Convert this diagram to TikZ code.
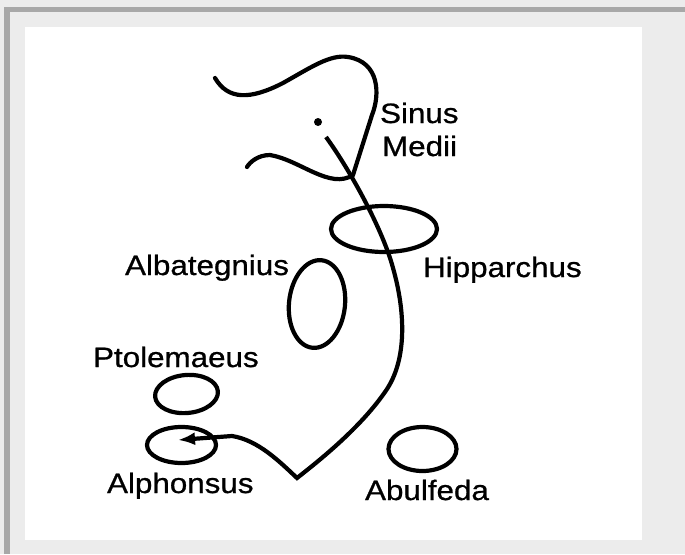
\documentclass[tikz,border=0pt]{standalone}
\usepackage{fontspec}
\setmainfont{Liberation Sans}[FakeStretch=1.12,FakeBold=0.8]
\usetikzlibrary{shapes.geometric,arrows.meta}
\definecolor{panelgray}{HTML}{ECECEC}
\definecolor{framegray}{HTML}{A8A8A8}

\begin{document}
\begin{tikzpicture}[x=1pt,y=-1pt,>={Latex[length=17pt,width=13pt]},line width=4.2pt,
  crater/.style={draw,ellipse,inner sep=0pt},
  moonname/.style={inner sep=0pt,anchor=base west,font=\fontsize{28}{30}\selectfont}]
\useasboundingbox (0,0) rectangle (685,554);
\fill[panelgray] (0,0) rectangle (685,554);
\fill[framegray] (4,7) rectangle (685,12);
\fill[framegray] (4,7) rectangle (10,554);
\fill[white] (25,27) rectangle (642,540);

\node[crater,minimum width=106pt,minimum height=46pt] (hipparchus) at (384,229) {};
\node[crater,minimum width=56pt,minimum height=88pt,rotate=-6] (albategnius) at (317,304) {};
\node[crater,minimum width=63pt,minimum height=38pt,rotate=5] (ptolemaeus) at (186.5,394) {};
\node[crater,minimum width=69pt,minimum height=36pt] (alphonsus) at (181.5,445) {};
\node[crater,minimum width=68pt,minimum height=44pt] (abulfeda) at (422.5,449) {};

\node[moonname] (sinus) at (378,123) {Sinus};
\node[moonname] (medii) at (380,156) {Medii};
\node[moonname] (hipparchuslabel) at (421,277) {Hipparchus};
\node[moonname] (albategniuslabel) at (123,275) {Albategnius};
\node[moonname] (ptolemaeuslabel) at (91,367) {Ptolemaeus};
\node[moonname] (alphonsuslabel) at (105,493) {Alphonsus};
\node[moonname] (abulfedalabel) at (363,500) {Abulfeda};

\draw[line cap=round] (215,78) .. controls (228,100) and (250,100) .. (283,83)
  .. controls (310,68) and (330,54) .. (348,57)
  .. controls (380,62) and (380,95) .. (372,115)
  -- (353,175)
  .. controls (330,190) and (300,160) .. (270,155)
  .. controls (258,155) and (250,162) .. (247,167);
\fill (318,122) circle (4pt);

\coordinate (tail) at (326,137);
\draw[->] (tail) .. controls (350,170) and (383,230) .. (393,268)
  .. controls (405,310) and (408,360) .. (385,392)
  .. controls (360,428) and (320,460) .. (297,478)
  .. controls (280,462) and (258,440) .. (232,436)
  -- ([xshift=-3.5pt,yshift=5pt]alphonsus.center);
\end{tikzpicture}
\end{document}
